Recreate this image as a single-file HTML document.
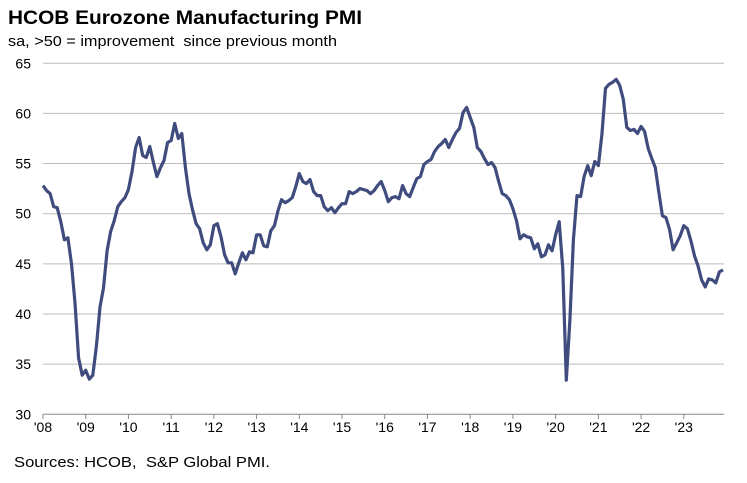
<!DOCTYPE html>
<html><head><meta charset="utf-8"><style>
body{margin:0;background:#fff;font-family:"Liberation Sans",Arial,sans-serif;}
</style></head><body>
<svg width="747" height="478" viewBox="0 0 747 478" xmlns="http://www.w3.org/2000/svg">
<text x="8" y="24" font-size="19" font-weight="bold" fill="#000" textLength="354" lengthAdjust="spacingAndGlyphs">HCOB Eurozone Manufacturing PMI</text>
<text x="8" y="46" font-size="15" fill="#000" textLength="329" lengthAdjust="spacingAndGlyphs">sa, &gt;50 = improvement&#160; since previous month</text>
<g id="grid"></g><g id="yt"></g><g id="xt"></g>
<path id="line" fill="none" stroke="#3f4c7d" stroke-width="3.2" stroke-linejoin="round"/>
<text x="14" y="467" font-size="15" fill="#000" textLength="256" lengthAdjust="spacingAndGlyphs">Sources: HCOB,&#160; S&amp;P Global PMI.</text>
</svg>
<script>
const yTicks=[30,35,40,45,50,55,60,65];
const xLabels=["'08","'09","'10","'11","'12","'13","'14","'15","'16","'17","'18","'19","'20","'21","'22","'23"];
const pmi=[
52.8,52.3,52.0,50.7,50.6,49.2,47.4,47.6,45.0,41.1,35.6,33.9,
34.4,33.5,33.9,36.8,40.7,42.6,46.3,48.2,49.3,50.7,51.2,51.6,
52.4,54.2,56.6,57.6,55.8,55.6,56.7,55.1,53.7,54.6,55.3,57.1,
57.3,59.0,57.5,58.0,54.6,52.0,50.4,49.0,48.5,47.1,46.4,46.9,
48.8,49.0,47.7,45.9,45.1,45.1,44.0,45.1,46.1,45.4,46.2,46.1,
47.9,47.9,46.8,46.7,48.3,48.8,50.3,51.4,51.1,51.3,51.6,52.7,
54.0,53.2,53.0,53.4,52.2,51.8,51.8,50.7,50.3,50.6,50.1,50.6,
51.0,51.0,52.2,52.0,52.2,52.5,52.4,52.3,52.0,52.3,52.8,53.2,
52.3,51.2,51.6,51.7,51.5,52.8,52.0,51.7,52.6,53.5,53.7,54.9,
55.2,55.4,56.2,56.7,57.0,57.4,56.6,57.4,58.1,58.5,60.1,60.6,
59.6,58.6,56.6,56.2,55.5,54.9,55.1,54.6,53.2,52.0,51.8,51.4,
50.5,49.3,47.5,47.9,47.7,47.6,46.5,47.0,45.7,45.9,46.9,46.3,
47.9,49.2,44.5,33.4,39.4,47.4,51.8,51.7,53.7,54.8,53.8,55.2,
54.8,57.9,62.5,62.9,63.1,63.4,62.8,61.4,58.6,58.3,58.4,58.0,
58.7,58.2,56.5,55.5,54.6,52.1,49.8,49.6,48.4,46.4,47.1,47.8,
48.8,48.5,47.3,45.8,44.8,43.4,42.7,43.5,43.4,43.1,44.2,44.4];
const NS="http://www.w3.org/2000/svg";
const L=43,R=724,step=3.56;
const y=v=>414.3-(v-30)*10.03;
const x=i=>L+i*step;
function mk(t,a,p){const e=document.createElementNS(NS,t);for(const k in a)e.setAttribute(k,a[k]);document.getElementById(p).appendChild(e);return e;}
yTicks.forEach(v=>{
 const g=mk('line',{x1:L,x2:R,y1:y(v),y2:y(v),stroke:v===30?'#888':'#bbb','stroke-width':1},'grid');
 
 
 const t=mk('text',{x:31,y:y(v)+5,'font-size':14,'text-anchor':'end',fill:'#000'},'yt');
 t.textContent=v;
 
 
});
for(let k=0;k<=16;k++){
 const tx=x(k*12);
 if(tx>R+1)break;
 const tk=mk('line',{x1:tx,x2:tx,y1:414,y2:419,stroke:'#888'},'xt');
 
 
}
xLabels.forEach((s,k)=>{
 const t=mk('text',{x:x(k*12),y:432,'font-size':14,'text-anchor':'middle',fill:'#000'},'xt');
 t.textContent=s;
 
 
});
document.getElementById('line').setAttribute('d',pmi.map((v,i)=>(i?'L':'M')+x(i).toFixed(1)+','+y(v).toFixed(1)).join(''));
</script>
</body></html>
